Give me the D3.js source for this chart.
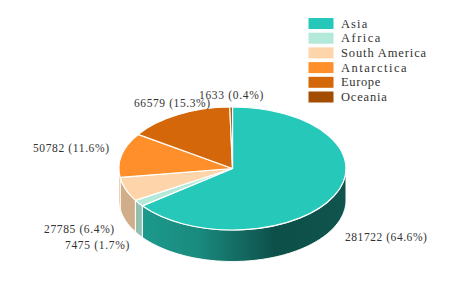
<!DOCTYPE html>
<html><head><meta charset="utf-8">
<script src="https://cdn.jsdelivr.net/npm/d3@7/dist/d3.min.js"></script>
<style>html,body{margin:0;padding:0;background:#fff}svg{display:block}text{font-family:"Liberation Serif",serif;fill:#333}</style>
</head><body><svg id="c" width="460" height="289"></svg>
<script>
const categories = ["Asia","Africa","South America","Antarctica","Europe","Oceania"];
const values = [281722,7475,27785,50782,66579,1633];
const shares = ["64.6%","1.7%","6.4%","11.6%","15.3%","0.4%"];
const colors = ["#26c9b9","#b3e9d9","#fed5aa","#ff8f2b","#d46709","#a34d00"];
const wallColors = ["url(#asiaWall)","#93bfae","#d0ae8a","#c9772a","#a85206","#7d3b00"];
const labelAnchors = [[345,241],[65,249],[44,233],[33,152],[134,107],[199,99]];

const W=460,H=289,cx=232.5,cy=168.5,rx=113.5,ry=61.5,depth=31.5;
const svg=d3.select("#c");
const defs=svg.append("defs");
const g=defs.append("linearGradient").attr("id","asiaWall").attr("gradientUnits","userSpaceOnUse")
  .attr("x1",cx-rx).attr("x2",cx+rx).attr("y1",0).attr("y2",0);
[[0,"#22b3a4"],[0.1,"#1c9a8d"],[0.35,"#1a8a7e"],[0.69,"#0d4f49"],[1,"#0f544d"]]
  .forEach(([o,c])=>g.append("stop").attr("offset",o).attr("stop-color",c));

const arcs=d3.pie().sort(null).value(d=>d)(values);
const px=a=>cx+rx*Math.sin(a), py=a=>cy-ry*Math.cos(a);
const FRONT0=Math.PI/2, FRONT1=Math.PI*1.5;

// walls
const wall=svg.append("g");
arcs.forEach((d,i)=>{
  const a0=Math.max(d.startAngle,FRONT0), a1=Math.min(d.endAngle,FRONT1);
  if(a1<=a0) return;
  const n=Math.max(2,Math.ceil((a1-a0)/0.02));
  const s=d3.scaleLinear().domain([0,n]).range([a0,a1]);
  const ang=d3.range(n+1).map(s);
  const top=ang.map(a=>[px(a),py(a)]);
  const bot=ang.slice().reverse().map(a=>[px(a),py(a)+depth]);
  wall.append("path").attr("d",d3.line()(top.concat(bot))+"Z")
    .attr("fill",wallColors[i]).attr("stroke","#fff").attr("stroke-width",1).attr("stroke-linejoin","round");
});

// top face
const arc=d3.arc().innerRadius(0).outerRadius(1);
svg.append("g").attr("transform",`translate(${cx},${cy}) scale(${rx},${ry})`)
  .selectAll("path").data(arcs).join("path")
  .attr("d",arc).attr("fill",(d,i)=>colors[i])
  .attr("stroke","#fff").attr("stroke-width",1.2).attr("vector-effect","non-scaling-stroke").attr("stroke-linejoin","round");

// slice labels: monospaced advance, as in the original bitmap-style font
const LABEL_ADV=5.85, LEGEND_ADV=6.55;
svg.append("g").selectAll("text").data(values).join("text")
  .attr("x",(d,i)=>labelAnchors[i][0]).attr("y",(d,i)=>labelAnchors[i][1])
  .attr("font-size",11.5)
  .text((d,i)=>`${d} (${shares[i]})`)
  .attr("textLength",(d,i)=>`${d} (${shares[i]})`.length*LABEL_ADV)
  .attr("lengthAdjust","spacing");

// legend
const ly=d3.scalePoint().domain(categories).range([18,91.5]);
const lg=svg.append("g").selectAll("g").data(categories).join("g")
  .attr("transform",d=>`translate(308.5,${ly(d)})`);
lg.append("rect").attr("width",25).attr("height",11).attr("fill",(d,i)=>colors[i]);
lg.append("text").attr("x",32.5).attr("y",9.5).attr("font-size",12.5).text(d=>d)
  .attr("textLength",d=>d.length*LEGEND_ADV).attr("lengthAdjust","spacing");
</script></body></html>
